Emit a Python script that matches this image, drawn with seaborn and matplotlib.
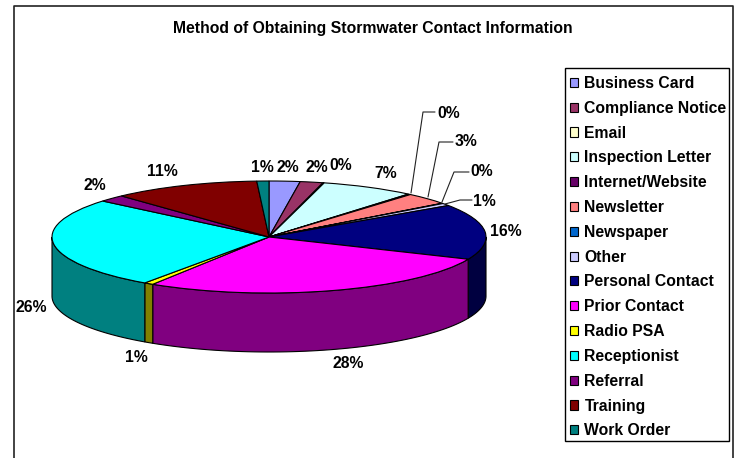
import numpy as np
import matplotlib
matplotlib.use("Agg")
import matplotlib.pyplot as plt
import seaborn as sns

# Survey shares, in percent, clockwise from twelve o'clock
categories = ["Business Card", "Compliance Notice", "Email", "Inspection Letter",
              "Internet/Website", "Newsletter", "Newspaper", "Other",
              "Personal Contact", "Prior Contact", "Radio PSA", "Receptionist",
              "Referral", "Training", "Work Order"]
shares = [2.3, 1.7, 0.1, 7.0, 0.2, 3.4, 0.1, 0.7, 16.0, 27.5, 0.7, 26.4, 2.0, 11.0, 0.9]
colors = ["#9999FF", "#993366", "#FFFFCC", "#CCFFFF", "#660066", "#FF8080", "#0066CC",
          "#CCCCFF", "#000080", "#FF00FF", "#FFFF00", "#00FFFF", "#800080", "#800000",
          "#008080"]
title = "Method of Obtaining Stormwater Contact Information"

# Label anchors in figure pixels, with elbow points for the leader-line labels
label_px = [(288, 167), (317, 167), (341, 166), (386, 174), (449, 113), (466, 142),
            (482, 172), (484, 201), (506, 231), (348, 364), (136, 357), (31, 307),
            (95, 186), (162, 171), (262, 167)]
leaders = {4: [(411, 193), (423, 112), (435, 112)],
           5: [(428, 197), (439, 142), (453, 142)],
           6: [(442, 202), (454, 172), (469, 172)],
           7: [(445, 204), (460, 200), (472, 200)]}

W, H = 736, 458
CX, CY, RX, RY, DEPTH = 269, 237, 217, 56, 59
FONT_SIZE = 11.3

sns.set_theme(style="white", palette=colors)
plt.rcParams["font.family"] = ["Liberation Sans", "DejaVu Sans"]
plt.rcParams["font.weight"] = "bold"

fig = plt.figure(figsize=(W / 100, H / 100), dpi=100, facecolor="white")
ax = fig.add_axes([0, 0, 1, 1])

wedges, _ = ax.pie(shares, colors=colors, startangle=90, counterclock=False,
                   wedgeprops=dict(edgecolor="black", linewidth=0.8), radius=1.0)
for w in wedges:
    w.set_zorder(5)
ax.set_aspect("auto")
# One data unit spans RX pixels across and RY pixels down, which flattens the disc
ax.set_xlim(-CX / RX, (W - CX) / RX)
ax.set_ylim((CY - H) / RY, CY / RY)
ax.axis("off")

# Side wall of the disc: the front half of each slice, at half brightness
edges = np.cumsum([0] + shares) / sum(shares) * 360
depth = DEPTH / RY
for start, end, col in zip(edges[:-1], edges[1:], colors):
    lo, hi = max(start, 90), min(end, 270)
    if hi <= lo:
        continue
    t = np.radians(np.linspace(lo, hi, 60))
    x, y = np.sin(t), np.cos(t)
    xs = np.concatenate([x, x[::-1]])
    ys = np.concatenate([y, y[::-1] - depth])
    rgb = np.array(matplotlib.colors.to_rgb(col)) * 0.5
    ax.fill(xs, ys, facecolor=rgb, edgecolor="black", linewidth=0.8, zorder=2)


def px(p):
    return (p[0] / W, (H - p[1]) / H)


for share, pos in zip(shares, label_px):
    fx, fy = px(pos)
    fig.text(fx, fy, f"{share:.0f}%", ha="center", va="center", fontsize=FONT_SIZE,
             fontweight="bold", color="black", zorder=10)
for pts in leaders.values():
    f = np.array([px(p) for p in pts])
    fig.add_artist(plt.Line2D(f[:, 0], f[:, 1], color="#222222", lw=0.8, zorder=9))

fx, fy = px((373, 29))
fig.text(fx, fy, title, ha="center", va="center", fontsize=FONT_SIZE, fontweight="bold",
         color="black")

# Chart frame: open along the bottom edge
frame = np.array([px(p) for p in [(14, 458), (14, 5.5), (733, 5.5), (733, 458)]])
fig.add_artist(plt.Line2D(frame[:, 0], frame[:, 1], color="#222222", lw=1.2))

# Legend box and its entries
x0, y1 = px((565, 441))
x1, y0 = px((729, 68))
fig.add_artist(plt.Rectangle((x0, y1), x1 - x0, y0 - y1, facecolor="white", edgecolor="black",
                             linewidth=1.0, transform=fig.transFigure, zorder=15))
legend = fig.legend(wedges, categories, loc="upper left", bbox_to_anchor=px((570, 76)),
                    bbox_transform=fig.transFigure, ncol=1, frameon=False, borderaxespad=0,
                    borderpad=0, labelspacing=0.625, handlelength=0.52, handleheight=0.52,
                    handletextpad=0.4, labelcolor="black",
                    prop=dict(family="Liberation Sans", weight="bold", size=FONT_SIZE))
legend.set_zorder(20)

fig.savefig("out.png", dpi=100)
